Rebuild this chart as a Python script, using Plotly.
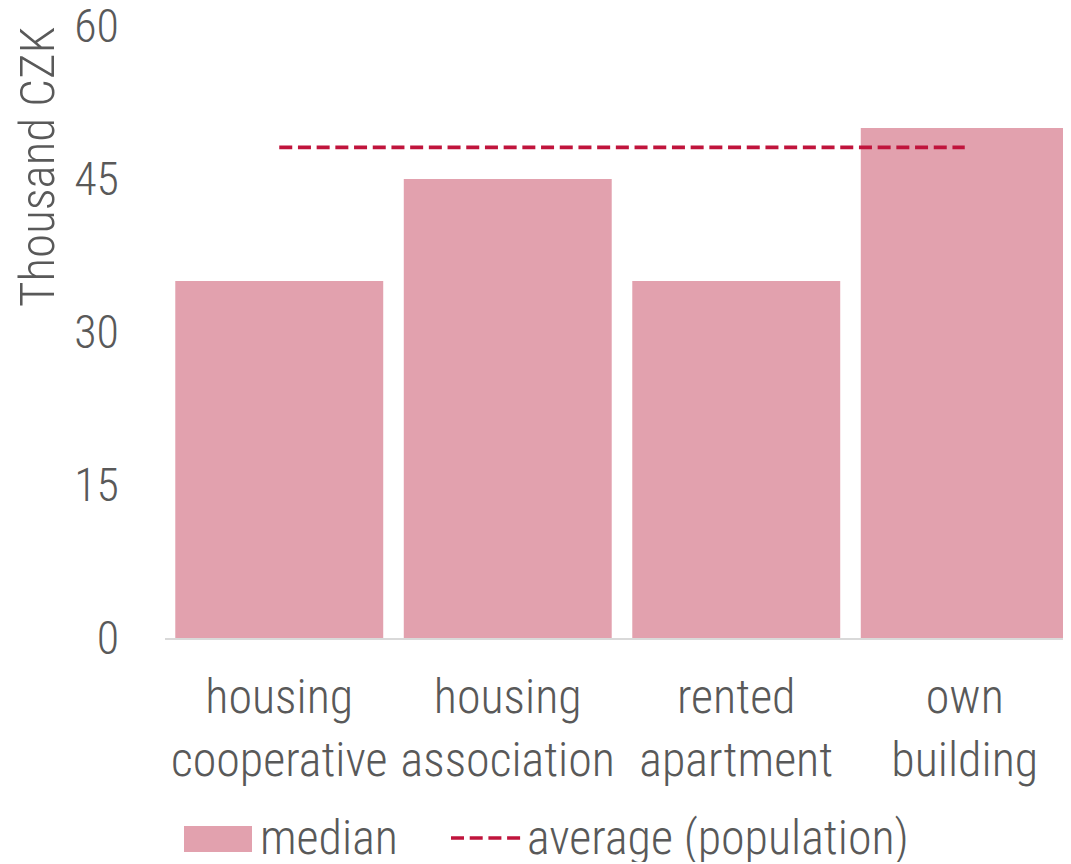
import plotly.graph_objects as go

categories = ["housing<br>cooperative", "housing<br>association", "rented<br>apartment", "own<br>building"]
median_values = [35, 45, 35, 50]
average_population = 48.1
y_ticks = [0, 15, 30, 45, 60]

FONT = "Roboto Condensed, Roboto, sans-serif"
TXT = "#595959"
BAR = "#e2a1ae"
LINE = "#c0143c"
FS = 48

OFF = 8  # page body margin offset
W, H = 1071 - OFF, 864 - OFF
ML, MR, MT, MB = 165 - OFF, 0, 26 - OFF, 226
PW, PH = W - ML - MR, H - MT - MB


def px_x(x):
    return (x - OFF - ML) / PW


def px_y(y):
    return (H - MB - (y - OFF)) / PH


fig = go.Figure()
fig.add_trace(go.Bar(x=categories, y=median_values, name="median",
                     marker=dict(color=BAR, line=dict(width=0)), showlegend=False))
fig.add_trace(go.Scatter(x=[categories[0], categories[-1]],
                         y=[average_population, average_population],
                         mode="lines", name="average (population)",
                         line=dict(color=LINE, width=3.6, dash="13px,5.7px"),
                         showlegend=False))

# manual legend
fig.add_shape(type="rect", xref="paper", yref="paper",
              x0=px_x(184), x1=px_x(252), y0=px_y(852), y1=px_y(826),
              fillcolor=BAR, line=dict(width=0))
fig.add_shape(type="line", xref="paper", yref="paper",
              x0=px_x(451), x1=px_x(521), y0=px_y(838), y1=px_y(838),
              line=dict(color=LINE, width=3.6, dash="13px,5.7px"))
fig.add_annotation(text="median", xref="paper", yref="paper",
                   x=px_x(258), y=px_y(837), xanchor="left", yanchor="middle",
                   height=50, valign="middle",
                   showarrow=False, font=dict(family=FONT, size=FS, color=TXT, weight=300))
fig.add_annotation(text="average (population)", xref="paper", yref="paper",
                   x=px_x(525), y=px_y(837), xanchor="left", yanchor="middle",
                   height=50, valign="middle",
                   showarrow=False, font=dict(family=FONT, size=FS, color=TXT, weight=300))
# y-axis title
fig.add_annotation(text="Thousand CZK", xref="paper", yref="paper",
                   x=px_x(37), y=px_y(25), xanchor="center", yanchor="top",
                   textangle=-90, showarrow=False,
                   font=dict(family=FONT, size=FS + 1, color=TXT, weight=300))

fig.update_layout(
    width=W, height=H,
    margin=dict(l=ML, r=MR, t=MT, b=MB, autoexpand=False),
    plot_bgcolor="white", paper_bgcolor="white",
    bargap=0.09,
    font=dict(family=FONT, size=FS, color=TXT, weight=300),
)
fig.update_xaxes(range=[-0.5, 3.465], showline=True, linecolor="#d9d9d9", linewidth=1.5,
                 showgrid=False, ticks="", ticklabelstandoff=16, automargin=False,
                 tickfont=dict(family=FONT, size=FS, color=TXT, weight=300))
fig.update_yaxes(range=[0, 60], tickvals=y_ticks, showgrid=False, zeroline=False,
                 showline=False, ticks="", ticklabelstandoff=45, automargin=False,
                 ticklabeloverflow="allow",
                 tickfont=dict(family=FONT, size=FS - 2, color=TXT, weight=300))

fig.write_html("out.html")
